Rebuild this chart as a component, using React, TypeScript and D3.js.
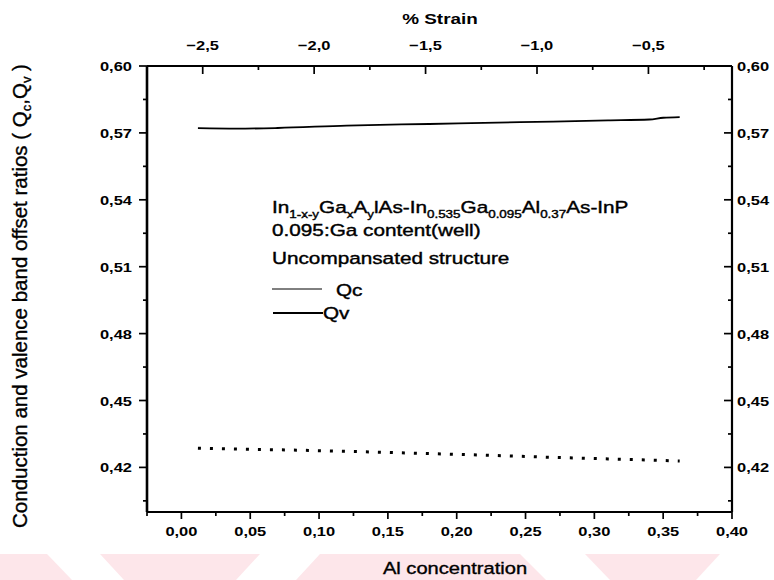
import React from "react";
import * as d3 from "d3";

// Al concentration (x) sampled along both curves
const alConcentration = [0.012, 0.04, 0.07, 0.12, 0.18, 0.22, 0.27, 0.31, 0.34, 0.35, 0.362];
// Conduction band offset ratio (solid curve)
const qcValues = [0.5721, 0.5719, 0.5722, 0.5733, 0.574, 0.5745, 0.5751, 0.5756, 0.576, 0.5768, 0.5771];
// Valence band offset ratio (dotted curve)
const qvValues = [0.4286, 0.4282, 0.4279, 0.4272, 0.4262, 0.4255, 0.4245, 0.4238, 0.4233, 0.4231, 0.4229];

const alTicks = [0, 0.05, 0.1, 0.15, 0.2, 0.25, 0.3, 0.35, 0.4];
const alMinorTicks = [-0.025, 0.025, 0.075, 0.125, 0.175, 0.225, 0.275, 0.325, 0.375];
const ratioTicks = [0.42, 0.45, 0.48, 0.51, 0.54, 0.57, 0.6];
const ratioMinorTicks = [0.405, 0.435, 0.465, 0.495, 0.525, 0.555, 0.585];
const strainTicks = [-2.5, -2.0, -1.5, -1.0, -0.5];
const strainMinorTicks = [-2.75, -2.25, -1.75, -1.25, -0.75, -0.25];

const FONT = "'Liberation Sans', Arial, Helvetica, sans-serif";
const SX = 1.22; // horizontal widening of the lettering

const left = 147;
const right = 732;
const top = 66;
const bottom = 512;

const x = d3.scaleLinear().domain([-0.025, 0.4]).range([left, right]);
const y = d3.scaleLinear().domain([0.4, 0.6]).range([bottom, top]);
const strain = d3.scaleLinear().domain([-2.75, -0.125]).range([left, right]);

const comma = (f: string) => (v: number) => d3.format(f)(v).replace(".", ",");
const fmt2 = comma(".2f");
const fmt1 = comma(".1f");

function WText({ x: tx, y: ty, anchor = "start", size, weight = "normal", heavy = 0, children }: any) {
  return (
    <text
      transform={`translate(${tx},${ty}) scale(${SX},1)`}
      textAnchor={anchor}
      fontFamily={FONT}
      fontSize={size}
      fontWeight={weight}
      fill="#000"
      stroke={heavy ? "#000" : "none"}
      strokeWidth={heavy}
    >
      {children}
    </text>
  );
}

export default function App() {
  const pts = alConcentration.map((a, i) => ({ a, qc: qcValues[i], qv: qvValues[i] }));
  const qcLine = d3
    .line<any>()
    .x((d) => x(d.a))
    .y((d) => y(d.qc))
    .curve(d3.curveMonotoneX);
  const qvLine = d3
    .line<any>()
    .x((d) => x(d.a))
    .y((d) => y(d.qv))
    .curve(d3.curveMonotoneX);

  const sub = { fontSize: 11 };

  return (
    <svg width={774} height={580} style={{ position: "absolute", left: 0, top: 0 }}>
      <rect width={774} height={580} fill="#fff" />

      {/* faint pink band along the bottom edge */}
      <g fill="#fde6ea">
        <polygon points="0,554 47,554 72,580 0,580" />
        <polygon points="100,554 260,554 236,580 124,580" />
        <polygon points="320,554 520,554 546,580 296,580" />
        <polygon points="585,554 720,554 696,580 610,580" />
      </g>

      {/* frame */}
      <g stroke="#000" fill="none">
        <line x1={left} y1={top} x2={right} y2={top} strokeWidth={2} />
        <line x1={left} y1={bottom} x2={right} y2={bottom} strokeWidth={2.2} />
        <line x1={left} y1={top} x2={left} y2={bottom} strokeWidth={2.6} />
        <line x1={right} y1={top} x2={right} y2={bottom} strokeWidth={2.2} />
      </g>

      <g stroke="#000" strokeWidth={1.7}>
        {/* bottom axis ticks (outward) */}
        {alTicks.map((t) => (
          <line key={"bm" + t} x1={x(t)} x2={x(t)} y1={bottom} y2={bottom + 7} />
        ))}
        {alMinorTicks.map((t) => (
          <line key={"bn" + t} x1={x(t)} x2={x(t)} y1={bottom} y2={bottom + 4} />
        ))}
        {/* top axis ticks (inward) */}
        {strainTicks.map((t) => (
          <line key={"tm" + t} x1={strain(t)} x2={strain(t)} y1={top} y2={top + 8} />
        ))}
        {strainMinorTicks.map((t) => (
          <line key={"tn" + t} x1={strain(t)} x2={strain(t)} y1={top} y2={top + 4} />
        ))}
        {/* left axis ticks (outward) */}
        {ratioTicks.map((t) => (
          <line key={"lm" + t} x1={left - 8} x2={left} y1={y(t)} y2={y(t)} />
        ))}
        {ratioMinorTicks.map((t) => (
          <line key={"ln" + t} x1={left - 4} x2={left} y1={y(t)} y2={y(t)} />
        ))}
        {/* right axis ticks (inward) */}
        {ratioTicks.map((t) => (
          <line key={"rm" + t} x1={right - 8} x2={right} y1={y(t)} y2={y(t)} />
        ))}
        {ratioMinorTicks.map((t) => (
          <line key={"rn" + t} x1={right - 4} x2={right} y1={y(t)} y2={y(t)} />
        ))}
      </g>

      {/* tick labels */}
      {alTicks.map((t) => (
        <WText key={"bl" + t} x={x(t)} y={536} anchor="middle" size={13.5} weight="bold">
          {fmt2(t)}
        </WText>
      ))}
      {strainTicks.map((t) => (
        <WText key={"tl" + t} x={strain(t)} y={50} anchor="middle" size={13.5} weight="bold">
          {fmt1(t)}
        </WText>
      ))}
      {ratioTicks.map((t) => (
        <WText key={"ll" + t} x={left - 15} y={y(t) + 5} anchor="end" size={13.5} weight="bold">
          {fmt2(t)}
        </WText>
      ))}
      {ratioTicks.map((t) => (
        <WText key={"rl" + t} x={right + 5} y={y(t) + 5} anchor="start" size={13.5} weight="bold">
          {fmt2(t)}
        </WText>
      ))}

      {/* axis titles */}
      <WText x={440} y={24} anchor="middle" size={15.5} weight="bold">
        % Strain
      </WText>
      <WText x={455} y={574} anchor="middle" size={16.5} heavy={0.35}>
        Al concentration
      </WText>
      <text
        transform="translate(27,296) rotate(-90)"
        textAnchor="middle"
        fontFamily={FONT}
        fontSize={20.5}
        fill="#000"
        stroke="#000"
        strokeWidth={0.35}
      >
        Conduction and valence band offset ratios ( Q
        <tspan fontSize={13} dy={4}>c</tspan>
        <tspan dy={-4}>,Q</tspan>
        <tspan fontSize={13} dy={4}>v</tspan>
        <tspan dy={-4}> )</tspan>
      </text>

      {/* curves */}
      <path d={qcLine(pts) || ""} fill="none" stroke="#000" strokeWidth={1.8} />
      <path
        d={qvLine(pts) || ""}
        fill="none"
        stroke="#000"
        strokeWidth={3}
        strokeDasharray="3 9"
      />

      {/* legend block */}
      <WText x={272} y={213} size={17} heavy={0.4}>
        In<tspan {...sub} dy={5}>1-x-y</tspan>
        <tspan dy={-5}>Ga</tspan>
        <tspan {...sub} dy={5}>x</tspan>
        <tspan dy={-5}>A</tspan>
        <tspan {...sub} dy={5}>y</tspan>
        <tspan dy={-5}>lAs-In</tspan>
        <tspan {...sub} dy={5}>0.535</tspan>
        <tspan dy={-5}>Ga</tspan>
        <tspan {...sub} dy={5}>0.095</tspan>
        <tspan dy={-5}>Al</tspan>
        <tspan {...sub} dy={5}>0.37</tspan>
        <tspan dy={-5}>As-InP</tspan>
      </WText>
      <WText x={272} y={236} size={17} heavy={0.4}>
        0.095:Ga content(well)
      </WText>
      <WText x={272} y={264} size={17} heavy={0.4}>
        Uncompansated structure
      </WText>
      <line x1={272} x2={322} y1={289} y2={289} stroke="#000" strokeWidth={1} />
      <WText x={336} y={296} size={17} heavy={0.4}>
        Qc
      </WText>
      <line x1={273} x2={323} y1={313} y2={313} stroke="#000" strokeWidth={2} />
      <WText x={323} y={319} size={17} heavy={0.4}>
        Qv
      </WText>
    </svg>
  );
}
